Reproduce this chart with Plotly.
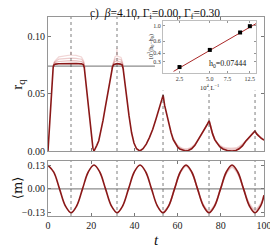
import plotly.graph_objects as go

# ---------------- data ----------------
h0 = 0.07444
t_peaks = [10.65, 31.95, 53.25, 74.55, 95.85]

t_r = [0, 0.5, 1.0, 1.5, 2.0, 2.4, 2.8, 3.5, 5, 8,
       10.6, 13, 15.5, 16.3, 16.8, 17.5, 18.5, 19.5, 20.2, 20.8,
       21.3, 21.9, 22.6, 23.5, 24.5, 25.5, 26.5, 27.5, 28.5, 29.3,
       29.9, 30.5, 32, 33.5, 34.3, 34.8, 35.5, 36.5, 37.5, 38.7,
       39.8, 41.0, 42.5, 44.0, 45.5, 47.0, 48.5, 50.0, 51.0, 52.3,
       53.3, 54.0, 55.0, 56.0, 57.0, 58.0, 59.0, 60.0, 61.0, 62.5,
       63.7, 65.0, 66.5, 68.0, 69.5, 71.0, 72.5, 73.8, 74.6, 75.3,
       76.2, 77.2, 78.2, 79.5, 81.0, 83.0, 85.2, 87.0, 88.5, 90.0,
       91.5, 93.0, 94.5, 95.8, 96.6, 97.6, 98.8, 100]
r_main = [0, 0.016, 0.034, 0.052, 0.067, 0.0735, 0.0755, 0.0762, 0.0765, 0.0767,
          0.0768, 0.0767, 0.0764, 0.0758, 0.073, 0.060, 0.040, 0.021, 0.009, 0.0025,
          0, 0.002, 0.005, 0.009, 0.017, 0.027, 0.038, 0.049, 0.060, 0.069,
          0.074, 0.0758, 0.0766, 0.0762, 0.0755, 0.072, 0.060, 0.045, 0.031, 0.016,
          0.007, 0.002, 0, 0.002, 0.006, 0.012, 0.019, 0.028, 0.035, 0.043,
          0.049, 0.040, 0.031, 0.023, 0.016, 0.010, 0.006, 0.0035, 0.0018, 0.0005,
          0, 0.0005, 0.002, 0.005, 0.0095, 0.0145, 0.0195, 0.0235, 0.0265, 0.021,
          0.015, 0.010, 0.0068, 0.0038, 0.0018, 0.0005, 0, 0.0005, 0.002, 0.0045,
          0.0085, 0.012, 0.015, 0.0175, 0.015, 0.0128, 0.011, 0.0095]

# faded curves (other system sizes), where they separate from the dark one
t_plat1 = [2.3, 3.0, 5, 8, 10.4, 10.6, 10.8, 13, 15.5, 16.5, 17.0]
r_plat1_a = [0.074, 0.0775, 0.0785, 0.079, 0.0792, 0.0792, 0.0792, 0.079, 0.0785, 0.077, 0.073]
r_plat1_b = [0.074, 0.078, 0.0805, 0.0813, 0.0815, 0.0815, 0.0815, 0.0813, 0.0805, 0.078, 0.073]
r_plat1_c = [0.074, 0.0785, 0.0825, 0.0838, 0.0842, 0.0875, 0.0842, 0.0838, 0.0825, 0.079, 0.073]
t_plat2 = [29.6, 30.2, 31.0, 31.7, 31.9, 32.1, 32.8, 33.8, 34.5, 35.0]
r_plat2_a = [0.072, 0.0765, 0.0785, 0.079, 0.079, 0.079, 0.0785, 0.078, 0.0765, 0.071]
r_plat2_b = [0.072, 0.077, 0.0805, 0.0812, 0.0812, 0.0812, 0.0805, 0.080, 0.077, 0.071]
r_plat2_c = [0.072, 0.078, 0.0825, 0.0833, 0.090, 0.0833, 0.0828, 0.082, 0.078, 0.071]
t_late = [58, 60, 62, 63.7, 65.5, 67.5, 70, 72.5, 74.6, 76, 78, 80, 82, 85.2, 87.5, 90, 92.5, 95.8, 97.5, 100]
r_late_b = [0.0105, 0.0042, 0.0018, 0.001, 0.0018, 0.0042, 0.0112, 0.0193, 0.026, 0.0162, 0.0072, 0.0038, 0.002, 0.0013, 0.002, 0.0052, 0.0102, 0.017, 0.0132, 0.0097]
r_late_c = [0.011, 0.005, 0.0025, 0.002, 0.0025, 0.005, 0.0115, 0.019, 0.0255, 0.0165, 0.008, 0.0045, 0.0028, 0.0025, 0.003, 0.006, 0.0105, 0.0165, 0.0135, 0.010]

t_m = [0, 2.66, 5.33, 7.99, 10.65, 13.31, 15.98, 18.64, 21.3, 23.96,
       26.63, 29.29, 31.95, 34.61, 37.28, 39.94, 42.6, 45.26, 47.93, 50.59,
       53.25, 55.91, 58.58, 61.24, 63.9, 66.56, 69.23, 71.89, 74.55, 77.21,
       79.88, 82.54, 85.2, 87.86, 90.53, 93.19, 95.85, 98.51, 100]
m_main = [0.128, 0.091, 0, -0.092, -0.130, -0.092, 0, 0.092, 0.130, 0.092,
          0, -0.092, -0.130, -0.092, 0, 0.092, 0.130, 0.092, 0, -0.092,
          -0.130, -0.092, 0, 0.092, 0.130, 0.092, 0, -0.092, -0.130, -0.092,
          0, 0.092, 0.130, 0.092, 0, -0.092, -0.130, -0.092, -0.035]
t_mf = [53.25, 55.91, 58.58, 61.24, 63.9, 66.56, 69.23, 71.89, 74.55, 77.21,
        79.88, 82.54, 85.2, 87.86, 90.53, 93.19, 95.85, 98.51, 100]
m_f_b = [-0.130, -0.091, 0.0, 0.089, 0.126, 0.089, 0.0, -0.088, -0.125, -0.088,
         0.0, 0.086, 0.122, 0.086, 0.0, -0.085, -0.120, -0.085, -0.034]
m_f_c = [-0.129, -0.091, 0.0, 0.087, 0.123, 0.087, 0.0, -0.085, -0.120, -0.085,
         0.0, 0.082, 0.116, 0.082, 0.0, -0.079, -0.111, -0.079, -0.033]

# inset data
inv_L = [2.5, 5.0, 10.0, 12.5]
dh = [0.249, 0.444, 0.80, 0.99]
fit_x = [2.18, 14.4]
fit_y = [0.215, 1.08]

x_ticks = [0, 20, 40, 60, 80, 100]
r_ticks = [0, 0.05, 0.10]
r_tick_text = ['0.00', '0.05', '0.10']
m_ticks = [-0.13, 0, 0.13]
m_tick_text = ['\u22120.13', '0.00', '0.13']
in_x_ticks = [2.5, 5.0, 7.5, 12.5]
in_x_text = ['2.5', '5.0', '7.5', '12.5']
in_y_ticks = [0.3, 0.4, 0.6, 1.0]
in_y_text = ['0.3', '0.4', '0.6', '1.0']

# ---------------- figure ----------------
DARK = 'rgb(138,24,24)'
FADES = ['rgba(185,70,70,0.35)', 'rgba(200,95,95,0.32)', 'rgba(210,120,120,0.30)']
GRAY = 'rgb(140,140,140)'
FONT = 'Liberation Serif'

fig = go.Figure()

fig.add_trace(go.Scatter(x=[0, 49.5], y=[h0, h0], mode='lines', xaxis='x', yaxis='y',
                         line=dict(color=GRAY, width=1.2), hoverinfo='skip'))
fig.add_trace(go.Scatter(x=[0, 100], y=[0, 0], mode='lines', xaxis='x2', yaxis='y2',
                         line=dict(color=GRAY, width=1.2), hoverinfo='skip'))

for ys, col in zip([r_plat1_a, r_plat1_b, r_plat1_c], FADES):
    fig.add_trace(go.Scatter(x=t_plat1, y=ys, mode='lines', xaxis='x', yaxis='y',
                             line=dict(color=col, width=1.2)))
for ys, col in zip([r_plat2_a, r_plat2_b, r_plat2_c], FADES):
    fig.add_trace(go.Scatter(x=t_plat2, y=ys, mode='lines', xaxis='x', yaxis='y',
                             line=dict(color=col, width=1.2)))
for ys, col in zip([r_late_b, r_late_c], FADES[1:]):
    fig.add_trace(go.Scatter(x=t_late, y=ys, mode='lines', xaxis='x', yaxis='y',
                             line=dict(color=col, width=1.5, shape='spline', smoothing=0.6)))
fig.add_trace(go.Scatter(x=t_r, y=r_main, mode='lines', xaxis='x', yaxis='y',
                         line=dict(color=DARK, width=1.6)))

for ys, col in zip([m_f_b, m_f_c], FADES[1:]):
    fig.add_trace(go.Scatter(x=t_mf, y=ys, mode='lines', xaxis='x2', yaxis='y2',
                             line=dict(color=col, width=1.5, shape='spline')))
fig.add_trace(go.Scatter(x=t_m, y=m_main, mode='lines', xaxis='x2', yaxis='y2',
                         line=dict(color=DARK, width=1.6, shape='spline')))

fig.add_trace(go.Scatter(x=fit_x, y=fit_y, mode='lines', xaxis='x3', yaxis='y3',
                         line=dict(color='rgb(170,40,40)', width=1.0), cliponaxis=True))
fig.add_trace(go.Scatter(x=inv_L, y=dh, mode='markers', xaxis='x3', yaxis='y3',
                         marker=dict(color='black', size=4, symbol='square')))

shapes = []
for i, tp in enumerate(t_peaks):
    top = 0.1175 if i < 2 else 0.053
    shapes.append(dict(type='line', xref='x', yref='y', x0=tp, x1=tp, y0=0, y1=top,
                       line=dict(color='rgb(70,70,70)', width=0.7, dash='dot'), layer='above'))
    shapes.append(dict(type='line', xref='x2', yref='y2', x0=tp, x1=tp, y0=-0.148, y1=0.152,
                       line=dict(color='rgb(70,70,70)', width=0.7, dash='dot'), layer='above'))

axis_common = dict(showline=True, linecolor='rgb(150,150,150)', linewidth=1, mirror='ticks',
                   ticks='inside', ticklen=3, tickcolor='rgb(120,120,120)', showgrid=False,
                   zeroline=False, automargin=False,
                   tickfont=dict(family=FONT, size=10, color='#222'))
inset_common = dict(showline=True, linecolor='rgb(190,190,190)', linewidth=0.8, mirror='ticks',
                    ticks='inside', ticklen=2, tickcolor='rgb(150,150,150)', showgrid=False,
                    zeroline=False, automargin=False,
                    tickfont=dict(family=FONT, size=6, color='#333'))

# the page body offsets the figure by 8px, so the figure is sized to fit the window
fig.update_layout(
    width=270, height=243,
    margin=dict(l=40, r=14, t=9, b=35),
    paper_bgcolor='white', plot_bgcolor='white',
    showlegend=False,
    shapes=shapes,
    xaxis=dict(domain=[0, 1], anchor='y', range=[0, 100], tickvals=x_ticks,
               showticklabels=False, **axis_common),
    yaxis=dict(domain=[0.3266, 1], anchor='x', range=[0, 0.1175], tickvals=r_ticks,
               ticktext=r_tick_text, **axis_common),
    xaxis2=dict(domain=[0, 1], anchor='y2', range=[0, 100], tickvals=x_ticks, **axis_common),
    yaxis2=dict(domain=[0, 0.2764], anchor='x2', range=[-0.148, 0.152], tickvals=m_ticks,
                ticktext=m_tick_text, **axis_common),
    xaxis3=dict(domain=[0.532, 0.963], anchor='y3', type='log', range=[0.233, 1.158],
                tickvals=in_x_ticks, ticktext=in_x_text, **inset_common),
    yaxis3=dict(domain=[0.719, 0.980], anchor='x3', type='log', range=[-0.690, 0.072],
                tickvals=in_y_ticks, ticktext=in_y_text, **inset_common),
)

ann = [
    dict(text='c)  <i>\u03b2</i>=4.10, \u0393<sub>i</sub>=0.00, \u0393<sub>f</sub>=0.30',
         xref='paper', yref='paper', x=0.495, y=1, yshift=3, showarrow=False,
         font=dict(family=FONT, size=11.5, color='#111'), xanchor='center', yanchor='middle'),
    dict(text='r<sub>q</sub>', xref='paper', yref='paper', x=0, xshift=-30, y=0.66,
         textangle=-90, showarrow=False, font=dict(family=FONT, size=15, color='#111'),
         xanchor='center', yanchor='middle'),
    dict(text='\u27e8m\u27e9', xref='paper', yref='paper', x=0, xshift=-31, y=0.14,
         textangle=-90, showarrow=False, font=dict(family='DejaVu Serif', size=13, color='#111'),
         xanchor='center', yanchor='middle'),
    dict(text='<i>t</i>', xref='paper', yref='paper', x=0.5, y=0, yshift=-24,
         showarrow=False, font=dict(family=FONT, size=15, color='#111'),
         xanchor='center', yanchor='middle'),
    dict(text='h<sub>0</sub>=0.07444', xref='paper', yref='paper', x=0.833, y=0.764,
         showarrow=False, font=dict(family=FONT, size=8, color='#111'),
         xanchor='center', yanchor='middle'),
    dict(text='10<sup>4</sup> L<sup>\u22121</sup>', xref='paper', yref='paper', x=0.748,
         y=0.719, yshift=-14, showarrow=False, font=dict(family=FONT, size=6.5, color='#222'),
         xanchor='center', yanchor='middle'),
    dict(text='10<sup>2</sup>(h<sub>0</sub>\u2212h<sub>0</sub>)', xref='paper', yref='paper',
         x=0.532, xshift=-12, y=0.85, textangle=-90, showarrow=False,
         font=dict(family=FONT, size=6, color='#222'), xanchor='center', yanchor='middle'),
]
fig.update_layout(annotations=ann)

fig.write_html('out.html')
